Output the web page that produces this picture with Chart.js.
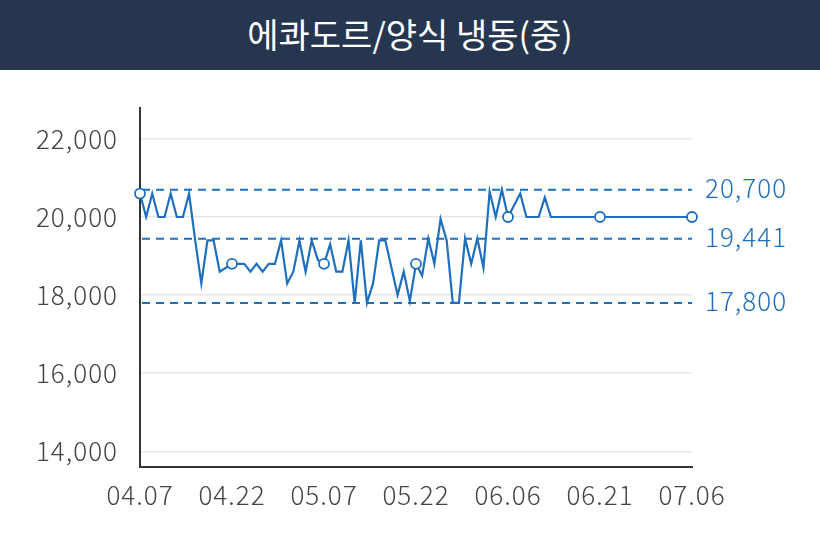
<!DOCTYPE html>
<html><head><meta charset="utf-8">
<script src="https://cdn.jsdelivr.net/npm/chart.js@4/dist/chart.umd.min.js"></script>
<style>
html,body{margin:0;padding:0;background:#fff;}
#title{width:820px;height:70px;background:#26364f;color:#fff;font-family:"Noto Sans CJK KR",sans-serif;font-size:34px;font-weight:400;text-align:center;line-height:68px;}
#wrap{width:820px;height:480px;position:relative;}
</style></head>
<body>
<div id="title">에콰도르/양식 냉동(중)</div>
<div id="wrap"><canvas id="c" width="820" height="480"></canvas></div>
<script>
const dates = [
 "04.07","04.08","04.09","04.10","04.11","04.12","04.13","04.14","04.15","04.16",
 "04.17","04.18","04.19","04.20","04.21","04.22","04.23","04.24","04.25","04.26",
 "04.27","04.28","04.29","04.30","05.01","05.02","05.03","05.04","05.05","05.06",
 "05.07","05.08","05.09","05.10","05.11","05.12","05.13","05.14","05.15","05.16",
 "05.17","05.18","05.19","05.20","05.21","05.22","05.23","05.24","05.25","05.26",
 "05.27","05.28","05.29","05.30","05.31","06.01","06.02","06.03","06.04","06.05",
 "06.06","06.07","06.08","06.09","06.10","06.11","06.12","06.13","06.14","06.15",
 "06.16","06.17","06.18","06.19","06.20","06.21","06.22","06.23","06.24","06.25",
 "06.26","06.27","06.28","06.29","06.30","07.01","07.02","07.03","07.04","07.05",
 "07.06"];
const prices = [
 20600,20000,20600,20000,20000,20600,20000,20000,20600,19400,
 18300,19400,19400,18600,18700,18800,18800,18800,18600,18800,
 18600,18800,18800,19400,18300,18600,19400,18600,19400,18900,
 18800,19300,18600,18600,19400,17800,19400,17800,18300,19400,
 19400,18700,18000,18600,17850,18800,18500,19450,18800,19950,
 19400,17800,17800,19450,18800,19450,18700,20650,20000,20700,
 20000,20300,20600,20000,20000,20000,20500,20000,20000,20000,
 20000,20000,20000,20000,20000,20000,20000,20000,20000,20000,
 20000,20000,20000,20000,20000,20000,20000,20000,20000,20000,
 20000];
const refValues = [20700, 19441, 17800];
const refLabels = ["20,700", "19,441", "17,800"];
const yTicks = [14000, 16000, 18000, 20000, 22000];
const markedEvery = 15;

const BLUE = "#1f6fbf";
const FONT = '"Noto Sans CJK KR", "Noto Sans", sans-serif';

const refPlugin = {
  id: 'refLines',
  beforeDraw(chart) {
    chart.ctx.letterSpacing = '1px';
  },
  beforeDatasetsDraw(chart) {
    const {ctx, chartArea, scales} = chart;
    ctx.save();
    ctx.strokeStyle = BLUE;
    ctx.lineWidth = 2;
    ctx.setLineDash([8, 6]);
    refValues.forEach(v => {
      const y = scales.y.getPixelForValue(v);
      ctx.beginPath();
      ctx.moveTo(chartArea.left + 2, y);
      ctx.lineTo(chartArea.right, y);
      ctx.stroke();
    });
    ctx.restore();
  },
  afterDraw(chart) {
    const {ctx, chartArea, scales} = chart;
    ctx.save();
    ctx.fillStyle = BLUE;
    ctx.font = '300 26px ' + FONT;
    ctx.textBaseline = 'middle';
    ctx.textAlign = 'left';
    refValues.forEach((v, i) => {
      const y = scales.y.getPixelForValue(v);
      ctx.fillText(refLabels[i], chartArea.right + 13, y - 2);
    });
    ctx.restore();
  }
};

new Chart(document.getElementById('c'), {
  type: 'line',
  data: {
    labels: dates,
    datasets: [{
      data: prices,
      borderColor: BLUE,
      borderWidth: 2.2,
      tension: 0,
      fill: false,
      pointRadius: prices.map((_, i) => i % markedEvery === 0 ? 5 : 0),
      pointBackgroundColor: '#fff',
      pointBorderColor: BLUE,
      pointBorderWidth: 1.8
    }]
  },
  options: {
    responsive: false,
    animation: false,
    events: [],
    layout: {padding: {left: 0, right: 128, top: 37, bottom: 0}},
    plugins: {legend: {display: false}, tooltip: {enabled: false}, title: {display: false}},
    scales: {
      x: {
        type: 'category',
        offset: false,
        grid: {display: false, drawTicks: false},
        border: {display: true, color: '#333', width: 2},
        afterFit(s) { s.height = 83; },
        ticks: {
          autoSkip: false, maxRotation: 0, minRotation: 0, padding: 13,
          color: '#444', font: {family: FONT, size: 26, weight: '300'},
          callback(val, idx) { return idx % markedEvery === 0 ? dates[idx] : null; }
        }
      },
      y: {
        min: 13600, max: 22800,
        afterBuildTicks(s) { s.ticks = yTicks.map(v => ({value: v})); },
        afterFit(s) { s.width = 140; },
        grid: {color: '#e6e6e6', lineWidth: 1.5, drawTicks: false},
        border: {display: true, color: '#333', width: 2},
        ticks: {
          padding: 22, color: '#444', font: {family: FONT, size: 26, weight: '300'},
          callback(v) { return v.toLocaleString('en-US'); }
        }
      }
    }
  },
  plugins: [refPlugin]
});
</script>
</body></html>
